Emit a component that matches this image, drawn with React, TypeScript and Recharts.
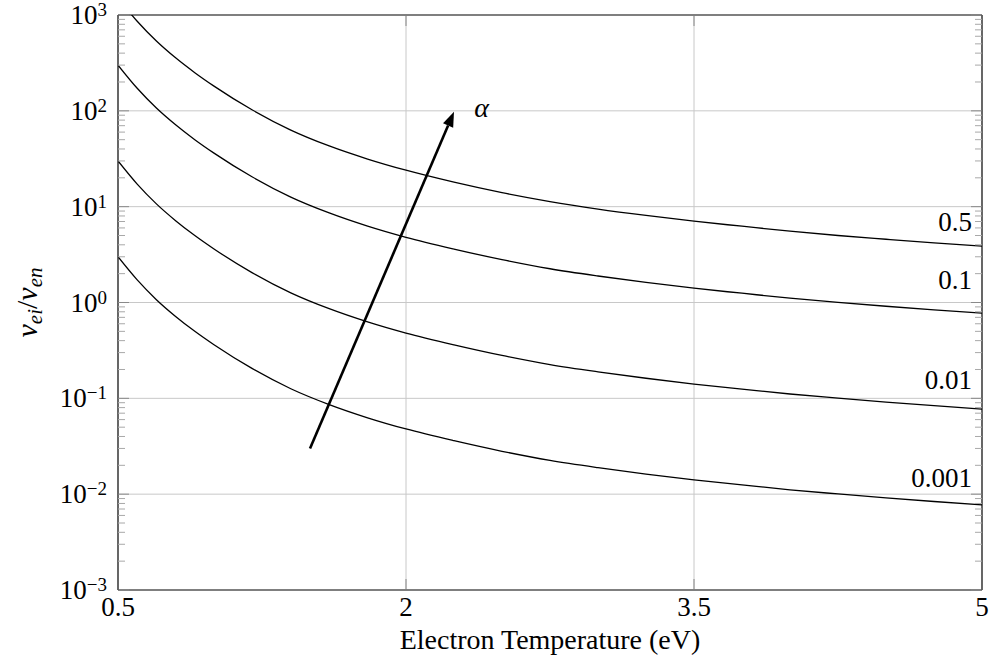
import React from "react";
import {
  CartesianGrid,
  Line,
  LineChart,
  ReferenceDot,
  ReferenceLine,
  XAxis,
  YAxis,
} from "recharts";

// electron temperature (eV) and nu_ei / nu_en for each ionisation fraction
const temps = [0.5, 0.6, 0.7, 0.8, 0.9, 1.0, 1.2, 1.4, 1.6, 1.8, 2.0, 2.25, 2.5, 2.75, 3.0, 3.25, 3.5, 3.75, 4.0, 4.25, 4.5, 4.75, 5.0];
const alpha05 = [1500, 860, 535, 357, 250, 181, 102, 63, 43, 31.4, 24, 18, 14, 11.3, 9.45, 8.1, 7.05, 6.25, 5.55, 5.0, 4.57, 4.19, 3.87];
const alpha01 = [300, 172, 107, 71.5, 50, 36.2, 20.4, 12.6, 8.61, 6.27, 4.79, 3.61, 2.8, 2.25, 1.89, 1.62, 1.41, 1.25, 1.11, 1.005, 0.914, 0.838, 0.773];
const alpha001 = [30, 17.2, 10.7, 7.15, 5.0, 3.62, 2.04, 1.26, 0.861, 0.627, 0.479, 0.361, 0.28, 0.225, 0.189, 0.162, 0.141, 0.125, 0.111, 0.1005, 0.0914, 0.0838, 0.0773];
const alpha0001 = [3.0, 1.72, 1.07, 0.715, 0.5, 0.362, 0.204, 0.126, 0.0861, 0.0627, 0.0479, 0.0361, 0.028, 0.0225, 0.0189, 0.0162, 0.0141, 0.0125, 0.0111, 0.01005, 0.00914, 0.00838, 0.00773];

const xTicks = [0.5, 2, 3.5, 5];
const decades = [0.001, 0.01, 0.1, 1, 10, 100, 1000];
const minorSteps = [2, 3, 4, 5, 6, 7, 8, 9];

// curve labels sit near the right edge, just above each curve
const curveNames = ["0.5", "0.1", "0.01", "0.001"];
const curveLabelY = [5.56, 1.38, 0.125, 0.0118];
const curveLabelX = 5;

const arrowFrom = { t: 1.5, v: 0.03 };
const arrowTo = { t: 2.25, v: 98 };
const alphaAt = { t: 2.355, v: 86 };

const data = temps.map((t, i) => ({
  t,
  a05: alpha05[i],
  a01: alpha01[i],
  a001: alpha001[i],
  a0001: alpha0001[i],
}));

const yTicks = [
  ...decades,
  ...decades.slice(0, -1).flatMap((d) => minorSteps.map((m) => m * d)),
].sort((a, b) => a - b);

const serif = {
  fontFamily:
    '"Liberation Serif", "DejaVu Serif", "Noto Serif", "Times New Roman", Times, "Nimbus Roman", FreeSerif, Georgia, serif',
};

function isMajor(v: number) {
  const e = Math.log10(v);
  return Math.abs(e - Math.round(e)) < 1e-6;
}

function expText(v: number) {
  const e = Math.round(Math.log10(v));
  return e < 0 ? `\u2212${-e}` : `${e}`;
}

const YTickLeft = ({ x, y, payload }: any) => {
  const major = isMajor(payload.value);
  return (
    <g>
      <line
        x1={x}
        x2={x + (major ? 11 : 7)}
        y1={y}
        y2={y}
        stroke={major ? "#8a8a8a" : "#a8a8a8"}
        strokeWidth={1}
      />
      {major && (
        <text x={x - 11} y={y + 9} textAnchor="end" style={serif} fontSize={27} fill="#000">
          10
          <tspan dy={-8} fontSize={19}>
            {expText(payload.value)}
          </tspan>
        </text>
      )}
    </g>
  );
};

const YTickRight = ({ x, y, payload }: any) => {
  const major = isMajor(payload.value);
  return (
    <line
      x1={x}
      x2={x - (major ? 11 : 7)}
      y1={y}
      y2={y}
      stroke={major ? "#8a8a8a" : "#a8a8a8"}
      strokeWidth={1}
    />
  );
};

const XTickBottom = ({ x, y, payload }: any) => {
  const v = payload.value;
  const inner = v > 0.5 && v < 5;
  return (
    <g>
      {inner && <line x1={x} x2={x} y1={y} y2={y - 11} stroke="#8a8a8a" />}
      <text x={x} y={y + 26} textAnchor="middle" style={serif} fontSize={27} fill="#000">
        {v}
      </text>
    </g>
  );
};

const XTickTop = ({ x, y, payload }: any) => {
  const v = payload.value;
  if (!(v > 0.5 && v < 5)) return <g />;
  return <line x1={x} x2={x} y1={y} y2={y + 11} stroke="#8a8a8a" />;
};

const XTitle = (props: any) => {
  const vb = props.viewBox;
  return (
    <text x={vb.x + vb.width / 2} y={649} textAnchor="middle" style={serif} fontSize={28} fill="#000">
      Electron Temperature (eV)
    </text>
  );
};

const YTitle = (props: any) => {
  const vb = props.viewBox;
  const cy = vb.y + vb.height / 2;
  return (
    <text
      x={37}
      y={cy}
      transform={`rotate(-90, 37, ${cy})`}
      textAnchor="middle"
      style={serif}
      fontSize={30}
      fill="#000"
    >
      <tspan fontStyle="italic">ν</tspan>
      <tspan fontStyle="italic" fontSize={21} dy={5}>
        ei
      </tspan>
      <tspan dy={-5}>/</tspan>
      <tspan fontStyle="italic">ν</tspan>
      <tspan fontStyle="italic" fontSize={21} dy={5}>
        en
      </tspan>
    </text>
  );
};

const ArrowShape = (p: any) => {
  const { x1, y1, x2, y2 } = p;
  const ang = Math.atan2(y2 - y1, x2 - x1);
  const len = 15;
  const half = 5.5;
  const bx = x2 - len * Math.cos(ang);
  const by = y2 - len * Math.sin(ang);
  const nx = -Math.sin(ang);
  const ny = Math.cos(ang);
  return (
    <g>
      <line x1={x1} y1={y1} x2={bx} y2={by} stroke="#000" strokeWidth={2.6} />
      <polygon
        points={`${x2},${y2} ${bx + half * nx},${by + half * ny} ${bx - half * nx},${by - half * ny}`}
        fill="#000"
      />
    </g>
  );
};

const seriesKeys = ["a05", "a01", "a001", "a0001"];

export default function App() {
  return (
    <div>
      <style>{"body{margin:0}"}</style>
      <LineChart width={989} height={668} data={data} margin={{ top: 14, right: 6, bottom: 8, left: 0 }}>
        <CartesianGrid
          stroke="#c8c8c8"
          strokeWidth={1}
          horizontalValues={[0.01, 0.1, 1, 10, 100]}
          verticalValues={[2, 3.5]}
        />
        <XAxis
          dataKey="t"
          type="number"
          domain={[0.5, 5]}
          ticks={xTicks}
          interval={0}
          allowDataOverflow
          height={70}
          tickSize={0}
          tickMargin={0}
          tickLine={false}
          axisLine={{ stroke: "#000", strokeWidth: 1.2 }}
          tick={<XTickBottom />}
          label={XTitle}
        />
        <XAxis
          xAxisId="top"
          orientation="top"
          dataKey="t"
          type="number"
          domain={[0.5, 5]}
          ticks={xTicks}
          interval={0}
          allowDataOverflow
          height={1}
          tickSize={0}
          tickMargin={0}
          tickLine={false}
          axisLine={{ stroke: "#000", strokeWidth: 1.2 }}
          tick={<XTickTop />}
        />
        <YAxis
          type="number"
          scale="log"
          domain={[0.001, 1000]}
          ticks={yTicks}
          interval={0}
          allowDataOverflow
          width={118}
          tickSize={0}
          tickMargin={0}
          tickLine={false}
          axisLine={{ stroke: "#000", strokeWidth: 1.2 }}
          tick={<YTickLeft />}
          label={YTitle}
        />
        <YAxis
          yAxisId="r"
          orientation="right"
          type="number"
          scale="log"
          domain={[0.001, 1000]}
          ticks={yTicks}
          interval={0}
          allowDataOverflow
          width={1}
          tickSize={0}
          tickMargin={0}
          tickLine={false}
          axisLine={{ stroke: "#000", strokeWidth: 1.2 }}
          tick={<YTickRight />}
        />
        {seriesKeys.map((k) => (
          <Line
            key={k}
            type="monotone"
            dataKey={k}
            stroke="#000"
            strokeWidth={1.3}
            dot={false}
            activeDot={false}
            isAnimationActive={false}
          />
        ))}
        <ReferenceLine
          segment={[
            { x: arrowFrom.t, y: arrowFrom.v },
            { x: arrowTo.t, y: arrowTo.v },
          ]}
          shape={ArrowShape}
        />
        {curveNames.map((name, i) => (
          <ReferenceDot
            key={name}
            x={curveLabelX}
            y={curveLabelY[i]}
            r={0}
            shape={(p: any) => (
              <text x={p.cx - 10} y={p.cy} textAnchor="end" style={serif} fontSize={27} fill="#000">
                {name}
              </text>
            )}
          />
        ))}
        <ReferenceDot
          x={alphaAt.t}
          y={alphaAt.v}
          r={0}
          shape={(p: any) => (
            <text x={p.cx} y={p.cy} style={serif} fontSize={28} fontStyle="italic" fill="#000">
              α
            </text>
          )}
        />
      </LineChart>
    </div>
  );
}
